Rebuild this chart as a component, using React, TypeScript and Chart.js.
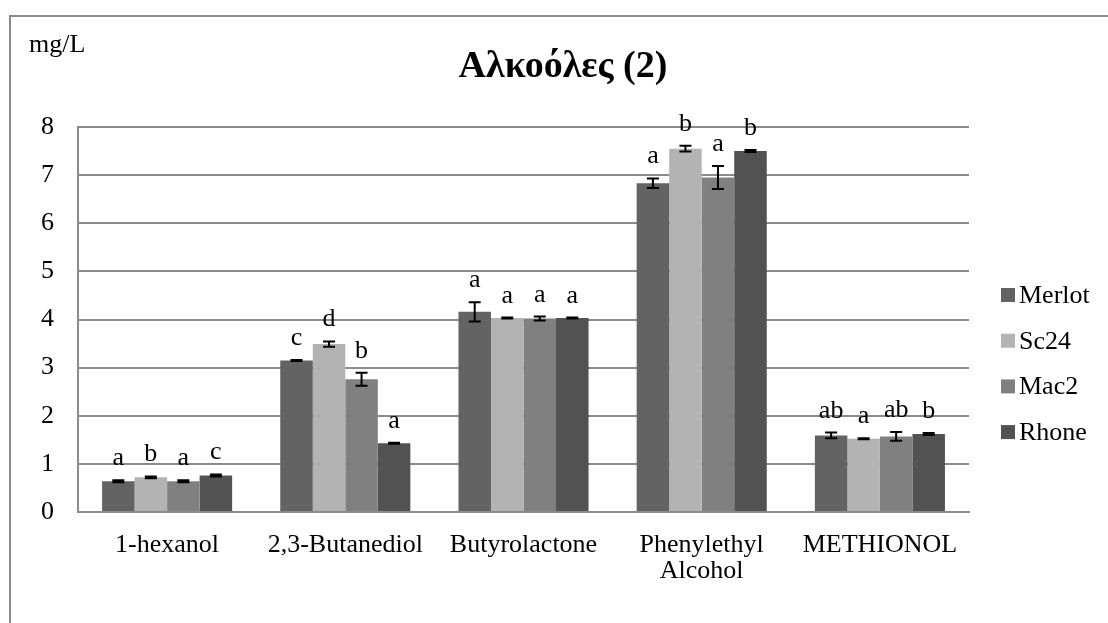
import React, { useEffect, useRef } from "react";
import { Chart, registerables } from "chart.js";

Chart.register(...registerables);

const categories: (string | string[])[] = [
  "1-hexanol",
  "2,3-Butanediol",
  "Butyrolactone",
  ["Phenylethyl", "Alcohol"],
  "METHIONOL",
];
const seriesNames = ["Merlot", "Sc24", "Mac2", "Rhone"];
const seriesColors = ["#636363", "#b3b3b3", "#808080", "#525252"];

const merlot = [0.64, 3.15, 4.16, 6.83, 1.59];
const sc24 = [0.72, 3.49, 4.03, 7.55, 1.52];
const mac2 = [0.64, 2.76, 4.02, 6.95, 1.57];
const rhone = [0.76, 1.43, 4.03, 7.5, 1.62];

const merlotErr = [0.02, 0.01, 0.2, 0.1, 0.06];
const sc24Err = [0.02, 0.055, 0.01, 0.06, 0.01];
const mac2Err = [0.02, 0.135, 0.04, 0.24, 0.09];
const rhoneErr = [0.02, 0.01, 0.01, 0.02, 0.02];

const merlotLetters = ["a", "c", "a", "a", "ab"];
const sc24Letters = ["b", "d", "a", "b", "a"];
const mac2Letters = ["a", "b", "a", "a", "ab"];
const rhoneLetters = ["c", "a", "a", "b", "b"];

const yTicks = [0, 1, 2, 3, 4, 5, 6, 7, 8];
const titleText = "Αλκοόλες (2)";
const unitText = "mg/L";

const values = [merlot, sc24, mac2, rhone];
const errors = [merlotErr, sc24Err, mac2Err, rhoneErr];
const letters = [merlotLetters, sc24Letters, mac2Letters, rhoneLetters];

const FONT = "'Liberation Serif', 'Times New Roman', serif";

const overlay = {
  id: "overlay",
  beforeDraw(chart: any) {
    const ctx = chart.ctx;
    ctx.save();
    ctx.fillStyle = "#ffffff";
    ctx.fillRect(0, 0, chart.width, chart.height);
    ctx.strokeStyle = "#8a8a8a";
    ctx.lineWidth = 2;
    ctx.beginPath();
    ctx.moveTo(10, chart.height + 5);
    ctx.lineTo(10, 16);
    ctx.lineTo(chart.width + 5, 16);
    ctx.stroke();
    ctx.restore();
  },
  afterDatasetsDraw(chart: any) {
    const ctx = chart.ctx;
    const ys = chart.scales.y;
    ctx.save();
    chart.data.datasets.forEach((_ds: any, di: number) => {
      const meta = chart.getDatasetMeta(di);
      meta.data.forEach((bar: any, i: number) => {
        const v = values[di][i];
        const e = errors[di][i];
        const x = bar.x;
        const yTop = ys.getPixelForValue(v + e);
        const yBot = ys.getPixelForValue(v - e);
        ctx.strokeStyle = "#000";
        ctx.lineWidth = 2;
        ctx.beginPath();
        ctx.moveTo(x, yTop);
        ctx.lineTo(x, yBot);
        ctx.moveTo(x - 6, yTop);
        ctx.lineTo(x + 6, yTop);
        ctx.moveTo(x - 6, yBot);
        ctx.lineTo(x + 6, yBot);
        ctx.stroke();
        ctx.fillStyle = "#000";
        ctx.font = `26px ${FONT}`;
        ctx.textAlign = "center";
        ctx.textBaseline = "alphabetic";
        ctx.fillText(letters[di][i], x, yTop - 15);
      });
    });
    ctx.restore();
  },
  afterDraw(chart: any) {
    const ctx = chart.ctx;
    ctx.save();
    ctx.fillStyle = "#000";
    ctx.textBaseline = "alphabetic";
    ctx.textAlign = "left";
    ctx.font = `26px ${FONT}`;
    ctx.fillText(unitText, 29, 52);
    ctx.font = `bold 38px ${FONT}`;
    ctx.textAlign = "center";
    ctx.fillText(titleText, 563, 77);
    // legend
    ctx.font = `26px ${FONT}`;
    ctx.textAlign = "left";
    seriesNames.forEach((name, i) => {
      const top = 288 + i * 45.7;
      ctx.fillStyle = seriesColors[i];
      ctx.fillRect(1001, top, 14, 14);
      ctx.fillStyle = "#000";
      ctx.fillText(name, 1019, top + 15);
    });
    ctx.restore();
  },
};

export default function App() {
  const ref = useRef<HTMLCanvasElement | null>(null);
  useEffect(() => {
    if (!ref.current) return;
    const chart = new Chart(ref.current, {
      type: "bar",
      data: {
        labels: categories as any,
        datasets: seriesNames.map((n, i) => ({
          label: n,
          data: values[i],
          backgroundColor: seriesColors[i],
          borderWidth: 0,
          categoryPercentage: 0.73,
          barPercentage: 1.0,
        })),
      },
      options: {
        animation: false,
        responsive: true,
        maintainAspectRatio: false,
        layout: { padding: { left: 10, right: 139, top: 127, bottom: 0 } },
        plugins: {
          legend: { display: false },
          title: { display: false },
          tooltip: { enabled: false },
        },
        scales: {
          x: {
            grid: { display: false, drawTicks: false },
            border: { display: true, color: "#8a8a8a", width: 2 },
            ticks: {
              color: "#000",
              font: { family: FONT, size: 26, lineHeight: 1.0 },
              padding: 20,
              maxRotation: 0,
              autoSkip: false,
            },
            afterFit: (s: any) => {
              s.height = 111;
            },
          },
          y: {
            min: 0,
            max: 8,
            afterBuildTicks: (s: any) => {
              s.ticks = yTicks.map((v) => ({ value: v }));
            },
            grid: { color: "#8a8a8a", lineWidth: 2, drawTicks: false },
            border: { display: true, color: "#8a8a8a", width: 2 },
            ticks: {
              color: "#000",
              font: { family: FONT, size: 26 },
              padding: 24,
            },
            afterFit: (s: any) => {
              s.width = 68;
            },
          },
        },
      },
      plugins: [overlay],
    });
    return () => chart.destroy();
  }, []);
  return (
    <div style={{ position: "fixed", left: 0, top: 0, width: 1108, height: 623, background: "#fff" }}>
      <canvas ref={ref} />
    </div>
  );
}
